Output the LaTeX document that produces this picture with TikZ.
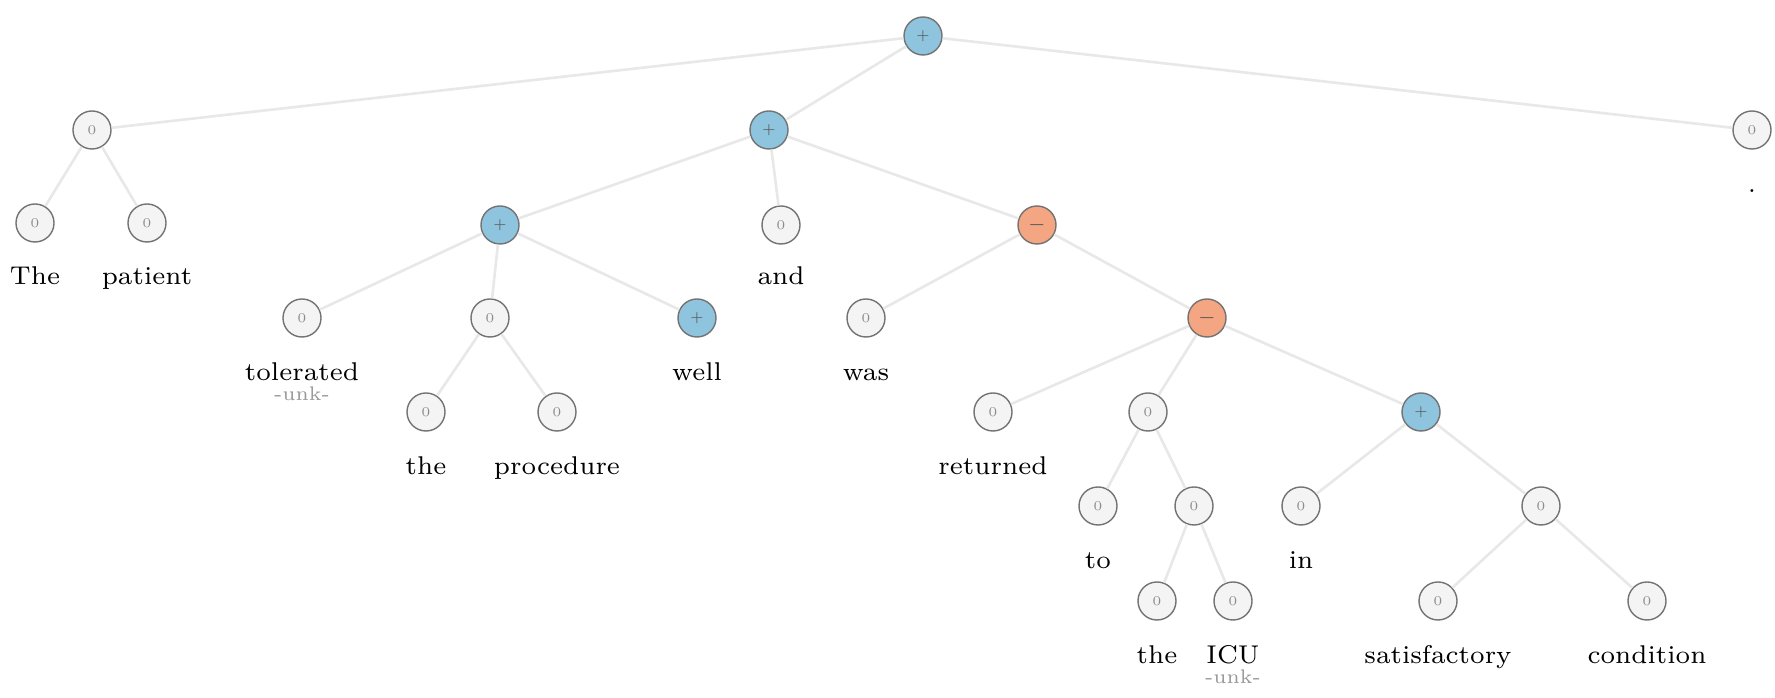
\documentclass[tikz,border=0pt]{standalone}
\usetikzlibrary{positioning}
\definecolor{posblue}{HTML}{8EC4DE}
\definecolor{negorange}{HTML}{F4A582}
\definecolor{neutral}{HTML}{F4F4F4}
\definecolor{edgegray}{HTML}{E8E8E8}
\definecolor{unkgray}{HTML}{9A9A9A}
\begin{document}
\begin{tikzpicture}[x=0.01cm, y=-0.01cm,
  tok/.style={circle, draw=black!55, line width=0.4pt, minimum size=0.38cm, inner sep=0pt, font=\fontsize{3.8}{4}\selectfont},
  zeronode/.style={tok, fill=neutral, text=black!45},
  posnode/.style={tok, fill=posblue, text=black!65},
  negnode/.style={tok, fill=negorange, text=black!65},
  word/.style={anchor=base, inner sep=0pt, font=\fontsize{7.3}{8}\selectfont},
  unk/.style={anchor=base, inner sep=0pt, text=unkgray, font=\fontsize{5.6}{6}\selectfont},
  link/.style={draw=edgegray, line width=0.75pt}]

  \useasboundingbox (0,0) rectangle (1775,698);

  % inner nodes
  \node[posnode]  (root) at (923, 36)   {+};
  \node[zeronode] (np)   at (92, 130)   {0};
  \node[posnode]  (vp)   at (769, 130)  {+};
  \node[posnode]  (tol)  at (500, 225)  {+};
  \node[zeronode] (obj)  at (490, 318)  {0};
  \node[negnode]  (conj) at (1037, 225) {$-$};
  \node[negnode]  (ret)  at (1207, 318) {$-$};
  \node[zeronode] (pp)   at (1148, 412) {0};
  \node[zeronode] (icu)  at (1194, 506) {0};
  \node[posnode]  (cond) at (1421, 412) {+};
  \node[zeronode] (adj)  at (1541, 506) {0};

  % leaves
  \node[zeronode] (w1)  at (35, 223)   {0};
  \node[zeronode] (w2)  at (147, 223)  {0};
  \node[zeronode] (w3)  at (302, 318)  {0};
  \node[zeronode] (w4)  at (426, 412)  {0};
  \node[zeronode] (w5)  at (557, 412)  {0};
  \node[posnode]  (w6)  at (697, 318)  {+};
  \node[zeronode] (w7)  at (781, 225)  {0};
  \node[zeronode] (w8)  at (866, 318)  {0};
  \node[zeronode] (w9)  at (993, 412)  {0};
  \node[zeronode] (w10) at (1098, 506) {0};
  \node[zeronode] (w11) at (1157, 601) {0};
  \node[zeronode] (w12) at (1233, 601) {0};
  \node[zeronode] (w13) at (1301, 506) {0};
  \node[zeronode] (w14) at (1438, 601) {0};
  \node[zeronode] (w15) at (1647, 601) {0};
  \node[zeronode] (w16) at (1752, 130) {0};

  % edges
  \foreach \a/\b in {root/np, root/vp, root/w16, np/w1, np/w2, vp/tol, vp/w7, vp/conj,
                     tol/w3, tol/obj, tol/w6, obj/w4, obj/w5, conj/w8, conj/ret,
                     ret/w9, ret/pp, ret/cond, pp/w10, pp/icu, icu/w11, icu/w12,
                     cond/w13, cond/adj, adj/w14, adj/w15}
    \draw[link] (\a) -- (\b);

  % words
  \node[word] (t1)  at (35, 285)   {The};
  \node[word] (t2)  at (147, 285)  {patient};
  \node[word] (t3)  at (302, 381)  {tolerated};
  \node[unk]  (u3)  at (302, 401)  {-unk-};
  \node[word] (t4)  at (426, 475)  {the};
  \node[word] (t5)  at (557, 475)  {procedure};
  \node[word] (t6)  at (697, 381)  {well};
  \node[word] (t7)  at (781, 285)  {and};
  \node[word] (t8)  at (866, 381)  {was};
  \node[word] (t9)  at (993, 475)  {returned};
  \node[word] (t10) at (1098, 569) {to};
  \node[word] (t11) at (1157, 664) {the};
  \node[word] (t12) at (1233, 664) {ICU};
  \node[unk]  (u12) at (1233, 684) {-unk-};
  \node[word] (t13) at (1301, 569) {in};
  \node[word] (t14) at (1438, 664) {satisfactory};
  \node[word] (t15) at (1647, 664) {condition};
  \node[word] (t16) at (1752, 193) {.};
\end{tikzpicture}
\end{document}
